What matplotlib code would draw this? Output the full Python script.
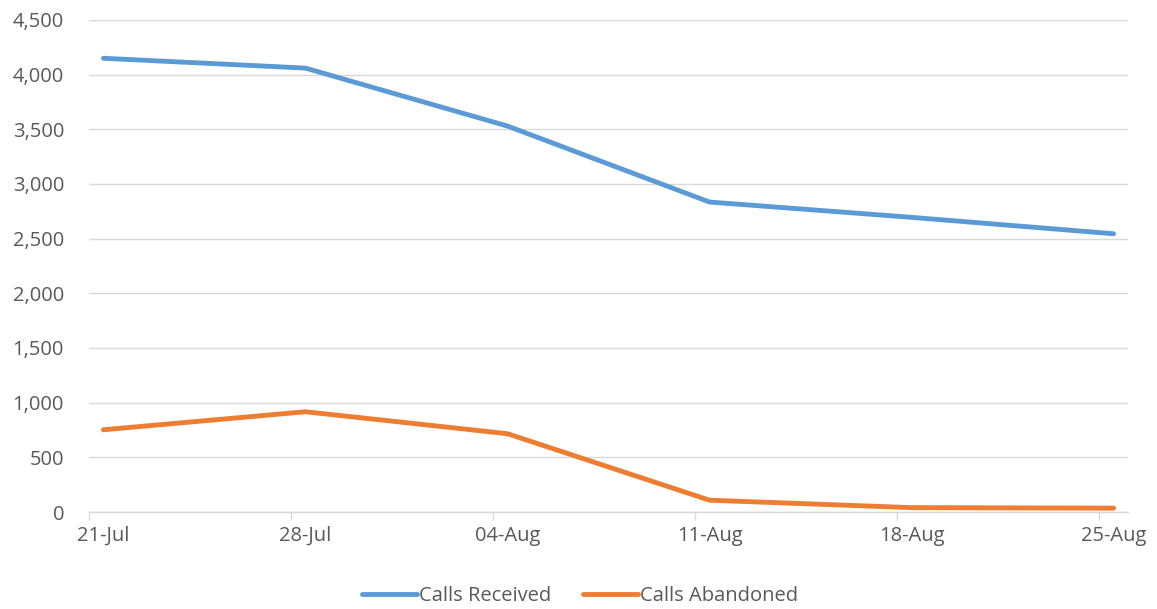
"""
Weekly call volumes: calls received vs. calls abandoned.
"""

import datetime as dt
import matplotlib
matplotlib.use("Agg")
import matplotlib.pyplot as plt
import matplotlib.dates as mdates
import matplotlib.ticker as mticker

week_starts = ["2023-07-21", "2023-07-28", "2023-08-04", "2023-08-11", "2023-08-18", "2023-08-25"]
calls_received = [4150, 4060, 3530, 2835, 2695, 2545]
calls_abandoned = [752, 917, 716, 108, 40, 35]

weeks = [dt.datetime.strptime(d, "%Y-%m-%d") for d in week_starts]
# points sit in the middle of their day, as on a spreadsheet date axis
xpts = [w + dt.timedelta(hours=12) for w in weeks]

grey_text = "#595959"
grid_col = "#D9D9D9"
fsize = 14.5

plt.rcParams["font.family"] = ["Open Sans", "DejaVu Sans"]

fig = plt.figure(figsize=(11.57, 6.09), dpi=100)
ax = fig.add_axes([89 / 1157, 1 - 512 / 609, (1128 - 89) / 1157, (512 - 20) / 609])

ax.plot(xpts, calls_received, color="#5B9BD5", lw=3.5, solid_capstyle="round",
        solid_joinstyle="round", label="Calls Received")
ax.plot(xpts, calls_abandoned, color="#ED7D31", lw=3.5, solid_capstyle="round",
        solid_joinstyle="round", label="Calls Abandoned")

ax.set_xlim(weeks[0], weeks[-1] + dt.timedelta(days=1))
ax.set_ylim(0, 4500)

# tick marks at day boundaries, labels centred on the day
ax.set_xticks(weeks)
ax.xaxis.set_major_formatter(mticker.NullFormatter())
ax.set_xticks(xpts, minor=True)
ax.xaxis.set_minor_formatter(mdates.DateFormatter("%d-%b"))

ax.yaxis.set_major_locator(mticker.MultipleLocator(500))
ax.yaxis.set_major_formatter(mticker.StrMethodFormatter("{x:,.0f}"))

ax.grid(axis="y", color=grid_col, lw=1)
ax.set_axisbelow(True)
for side in ["top", "right", "left"]:
    ax.spines[side].set_visible(False)
ax.spines["bottom"].set_color(grid_col)
ax.spines["bottom"].set_linewidth(1)

ax.tick_params(axis="y", length=0, pad=18, labelsize=fsize, labelcolor=grey_text)
ax.tick_params(axis="x", which="major", length=6, width=1, color=grid_col)
ax.tick_params(axis="x", which="minor", length=0, pad=10,
               labelsize=fsize, labelcolor=grey_text)

fig.legend(loc="center", bbox_to_anchor=(580 / 1157, 1 - 596 / 609), ncol=2,
           frameon=False, fontsize=fsize, labelcolor=grey_text, handlelength=2.7,
           handletextpad=0.1, columnspacing=1.6)

fig.savefig("out.png", dpi=100)
